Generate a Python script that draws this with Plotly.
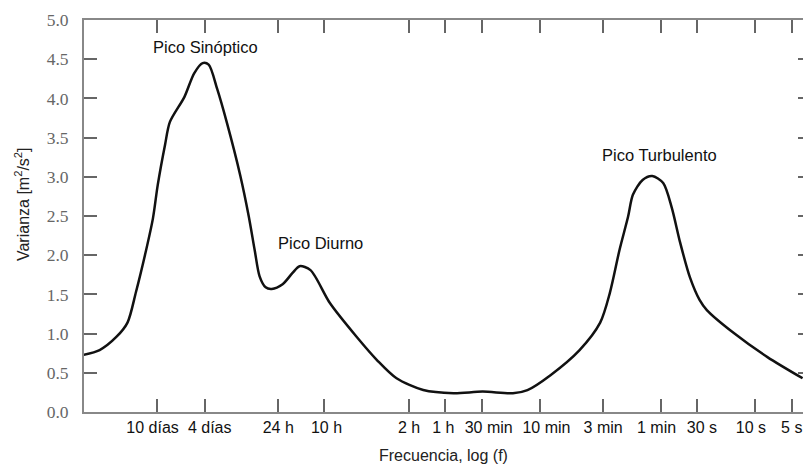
import numpy as np
import plotly.graph_objects as go

# Curve: log10 of frequency (Hz) and variance [m2/s2]
log_freq = [-6.54, -6.41, -6.27, -6.18, -6.11, -6.03, -5.97, -5.93, -5.87, -5.83,
            -5.71, -5.63, -5.56, -5.51, -5.44, -5.36, -5.25, -5.18, -5.13, -5.09,
            -5.04, -4.99, -4.90, -4.82, -4.76, -4.67, -4.51, -4.29, -4.12, -3.96,
            -3.74, -3.49, -3.25, -3.00, -2.88, -2.69, -2.45, -2.28, -2.20, -2.12,
            -2.05, -2.01, -1.93, -1.85, -1.76, -1.69, -1.62, -1.54, -1.46, -1.40,
            -1.18, -0.90, -0.61]
variance = [0.73, 0.79, 0.96, 1.14, 1.53, 2.04, 2.47, 2.90, 3.41, 3.70,
            4.02, 4.32, 4.45, 4.43, 4.12, 3.69, 3.02, 2.50, 2.06, 1.73,
            1.59, 1.57, 1.63, 1.77, 1.86, 1.81, 1.39, 0.96, 0.66, 0.43,
            0.28, 0.24, 0.26, 0.24, 0.28, 0.47, 0.79, 1.14, 1.52, 2.07,
            2.49, 2.77, 2.96, 3.01, 2.92, 2.61, 2.16, 1.72, 1.43, 1.30,
            1.01, 0.70, 0.43]

# X ticks: periods in seconds and labels
tick_periods = [864000, 345600, 86400, 36000, 7200, 3600, 1800, 600, 180, 60, 30, 10, 5]
tick_labels = ["10 días", "4 días", "24 h", "10 h", "2 h", "1 h", "30 min", "10 min",
               "3 min", "1 min", "30 s", "10 s", "5 s"]
# small label nudges as in the original (non-breaking spaces: + right pad, - left pad)
label_pad = [2, -2, 0, -1, 0, 1, -3, -3, 0, 2, -2, 2, 0]

y_ticks = [0.0, 0.5, 1.0, 1.5, 2.0, 2.5, 3.0, 3.5, 4.0, 4.5, 5.0]
y_tick_labels = ["0.0", "0.5", "1.0", "1.5", "2.0", "2.5", "3.0", "3.5", "4.0", "4.5", "5.0"]

# Peak labels: (text, log10 f, variance)
peak_text = ["Pico Sinóptico", "Pico Diurno", "Pico Turbulento"]
peak_logf = [-5.54, -4.59, -1.79]
peak_var = [4.66, 2.16, 3.28]

freq = [10 ** v for v in log_freq]
tick_freq = [1.0 / p for p in tick_periods]
NB = "\u00a0"
tick_text = [(lab + NB * p) if p > 0 else (NB * (-p) + lab) for lab, p in zip(tick_labels, label_pad)]

SANS = "Liberation Sans, Arial"

fig = go.Figure()
fig.add_trace(go.Scatter(x=freq, y=variance, mode="lines",
                         line=dict(color="#111111", width=2.5, shape="spline", smoothing=0.8),
                         hoverinfo="skip", showlegend=False))
# invisible trace to anchor the right-side tick axis
fig.add_trace(go.Scatter(x=freq, y=variance, mode="lines", yaxis="y2",
                         line=dict(width=0), opacity=0, hoverinfo="skip", showlegend=False))

for t, xv, yv in zip(peak_text, peak_logf, peak_var):
    fig.add_annotation(x=xv, y=yv, xref="x", yref="y", text=t, showarrow=False,
                       font=dict(family=SANS, size=16.5, color="#111111"),
                       xanchor="center", yanchor="middle")

fig.add_annotation(x=0.5, y=-0.11, xref="paper", yref="paper", text="Frecuencia, log (f)",
                   showarrow=False, xanchor="center", yanchor="middle",
                   font=dict(family=SANS, size=16, color="#222222"))
fig.add_annotation(x=-0.086, y=0.531, xref="paper", yref="paper",
                   text="Varianza [m<sup>2</sup>/s<sup>2</sup>]", textangle=-90,
                   showarrow=False, xanchor="center", yanchor="middle",
                   font=dict(family=SANS, size=16, color="#222222"))

fig.update_layout(
    width=803, height=468,
    margin=dict(l=84, r=0, t=20, b=56, autoexpand=False),
    paper_bgcolor="white", plot_bgcolor="white",
    xaxis=dict(type="log", range=[-6.5388, -0.6065], automargin=False,
               tickvals=tick_freq, ticktext=tick_text, tickangle=0,
               ticks="inside", ticklen=13, tickwidth=2, tickcolor="#666666",
               showline=True, linecolor="#888888", linewidth=2, mirror="ticks",
               showgrid=False, zeroline=False,
               tickfont=dict(family=SANS, size=16, color="#111111"),
               ticklabelstandoff=0),
    yaxis=dict(range=[0, 5], tickvals=y_ticks, ticktext=y_tick_labels, automargin=False,
               ticks="inside", ticklen=13, tickwidth=2, tickcolor="#666666",
               showline=True, linecolor="#888888", linewidth=2,
               showgrid=False, zeroline=False,
               tickfont=dict(family="Liberation Serif, Times New Roman", size=17.5, color="#666666"),
               ticklabelstandoff=10),
    yaxis2=dict(range=[0, 5], overlaying="y", side="right", tickvals=y_ticks, automargin=False,
                ticks="inside", ticklen=5, tickwidth=2, tickcolor="#666666",
                showticklabels=False, showline=False, showgrid=False, zeroline=False),
)

# remove the browser's default 8px body margin so the figure fills the window exactly
fig.write_html("out.html", config={"displayModeBar": False},
               post_script="document.body.style.margin='0px';document.body.style.overflow='hidden';")
